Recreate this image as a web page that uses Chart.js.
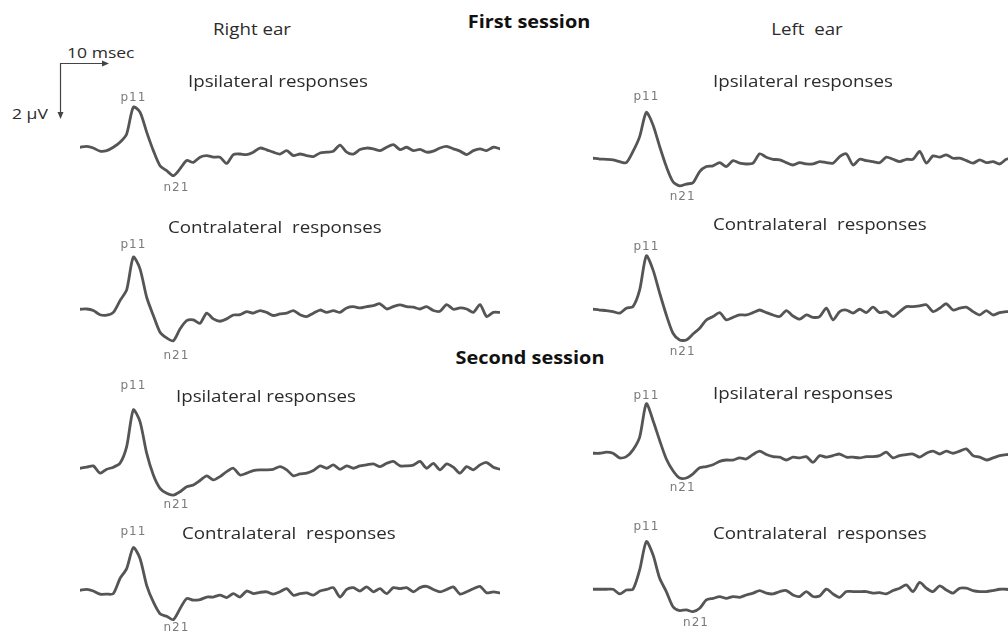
<!DOCTYPE html>
<html>
<head>
<meta charset="utf-8">
<script src="https://cdn.jsdelivr.net/npm/chart.js@4.4.1/dist/chart.umd.min.js"></script>
<style>
  body { margin: 0; width: 1008px; height: 634px; overflow: hidden; background: #fff; position: relative; }
  canvas { position: absolute; }
  .t { position: absolute; font-family: "Open Sans", sans-serif; font-size: 16px; color: #2b2b2b; white-space: pre; line-height: 1; }
  .c { transform: translate(-50%, -50%) scaleX(1.17); }
  .l { transform: translateY(-50%) scaleX(1.17); transform-origin: left center; }
  .b { font-weight: bold; font-size: 17px; color: #111; }
</style>
</head>
<body>

<svg style="position:absolute;left:0;top:0" width="200" height="140">
  <path d="M60.5 116 V63.5 H104" stroke="#444" stroke-width="1.2" fill="none"/>
  <path d="M102 60.5 L109 63.5 L102 66.5 Z" fill="#444"/>
  <path d="M57.5 112 L60.5 119 L63.5 112 Z" fill="#444"/>
</svg>

<div class="t c" style="left:252px;top:29px">Right ear</div>
<div class="t c b" style="left:529px;top:21px">First session</div>
<div class="t c" style="left:807px;top:29px">Left  ear</div>
<div class="t l" style="left:67px;top:52px;font-size:15px">10 msec</div>
<div class="t l" style="left:12px;top:113px;font-size:15px">2 µV</div>
<div class="t c b" style="left:530px;top:357px">Second session</div>

<script>
// sample times (ms) shared by all traces
const timesMs = [0, 1.5, 3, 4.5, 6, 7.5, 9, 10.5, 12, 13.5, 15, 16.5, 18, 19.5, 21, 22.5,
  24, 25.5, 27, 28.5, 30, 31.5, 33, 34.5, 36, 37.5, 39, 40.5, 42, 43.5, 45, 46.5,
  48, 49.5, 51, 52.5, 54, 55.5, 57, 58.5, 60, 61.5, 63, 64.5, 66, 67.5, 69, 70.5,
  72, 73.5, 75, 76.5, 78, 79.5, 81, 82.5, 84, 85.5, 87, 88.5, 90, 91.5, 93, 94.5];

// amplitudes in µV, positive up
const s1RightIpsi = [0, 0.03, -0.03, -0.15, -0.13, 0, 0.19, 0.51, 1.54, 1.35, 0.58, -0.13, -0.71, -0.9, -1.09, -0.83,
  -0.51, -0.58, -0.38, -0.32, -0.38, -0.38, -0.62, -0.28, -0.26, -0.28, -0.19, -0.03, -0.1, -0.19, -0.26, -0.13,
  -0.32, -0.26, -0.32, -0.36, -0.22, -0.19, -0.15, 0.08, -0.19, -0.26, -0.09, -0.03, -0.06, -0.13, 0, 0.1,
  -0.09, 0, -0.13, -0.08, -0.19, -0.15, -0.03, 0.03, -0.06, -0.15, -0.28, -0.13, -0.06, -0.13, 0, -0.06];
const s1RightContra = [0, 0.01, -0.05, -0.21, -0.23, -0.12, 0.33, 0.74, 2.0, 1.55, 0.46, -0.24, -0.88, -1.1, -1.21, -0.76,
  -0.44, -0.41, -0.54, -0.15, -0.37, -0.46, -0.37, -0.22, -0.21, -0.09, -0.15, -0.05, -0.12, -0.24, -0.18, -0.15,
  -0.05, -0.21, -0.28, -0.15, -0.03, -0.12, -0.05, -0.12, 0.05, 0.1, 0.05, 0.1, 0.14, 0.21, 0.01, 0.1,
  0.17, 0.1, 0.08, 0.01, 0.1, -0.05, -0.08, 0.18, 0, 0.05, 0.01, -0.12, 0.18, -0.28, -0.12, -0.12];
const s2RightIpsi = [0, 0.04, 0.09, -0.19, -0.04, 0.04, 0.19, 0.83, 2.24, 1.79, 0.58, -0.26, -0.77, -0.96, -1.03, -0.9,
  -0.71, -0.64, -0.47, -0.29, -0.45, -0.32, -0.13, 0, -0.26, -0.19, -0.09, -0.06, -0.06, -0.04, 0.06, -0.06,
  -0.29, -0.22, -0.19, -0.09, 0.09, 0, 0.13, -0.04, 0.09, 0, 0.09, 0.13, 0.17, 0.06, 0.19, 0.26,
  0.09, 0.09, 0.12, 0.26, 0, 0.19, -0.06, 0.17, 0.04, -0.19, 0.06, -0.06, 0.13, 0.22, 0.04, -0.04];
const s2RightContra = [0, 0.03, -0.03, -0.15, -0.15, -0.13, 0.45, 0.83, 1.64, 1.22, 0.19, -0.45, -0.9, -1.0, -1.13, -0.71,
  -0.32, -0.38, -0.36, -0.26, -0.26, -0.19, -0.28, -0.13, -0.26, -0.03, -0.13, -0.08, -0.06, -0.15, -0.06, 0.06,
  -0.19, -0.13, -0.1, -0.19, -0.03, 0.03, 0.1, -0.26, 0.03, 0.1, -0.03, 0.13, -0.06, 0.06, -0.13, 0.1,
  0.06, 0.1, -0.06, 0.1, 0.15, 0.03, -0.06, 0.03, 0.13, -0.15, -0.06, 0.06, 0.15, -0.1, -0.06, -0.1];
const s1LeftIpsi = [0, -0.03, -0.04, -0.06, -0.13, -0.17, 0.26, 0.83, 1.76, 1.28, 0.45, -0.32, -0.9, -1.06, -0.99, -0.94,
  -0.51, -0.32, -0.29, -0.17, -0.32, -0.09, -0.19, -0.22, -0.19, 0.17, 0.04, -0.04, -0.06, -0.17, -0.26, -0.17,
  -0.22, -0.22, -0.13, -0.17, -0.19, 0.06, 0.17, -0.26, -0.04, -0.09, -0.13, -0.17, 0.04, -0.04, -0.13, -0.04,
  -0.04, 0.26, -0.19, 0.09, 0.04, 0.13, 0, 0, -0.09, -0.19, -0.06, -0.17, -0.13, -0.22, -0.04, 0];
const s1LeftContra = [0, -0.03, -0.05, -0.09, -0.15, 0.04, 0.1, 0.74, 2.05, 1.51, 0.62, -0.22, -0.92, -1.18, -1.18, -0.95,
  -0.73, -0.41, -0.28, -0.13, -0.41, -0.31, -0.22, -0.22, -0.13, -0.03, -0.13, -0.22, -0.28, -0.05, -0.26, -0.38,
  -0.22, -0.31, -0.28, 0.04, -0.41, -0.09, -0.03, -0.15, 0, -0.13, 0.08, -0.13, -0.09, -0.28, -0.09, 0.1,
  0.1, 0.13, 0.17, -0.09, 0.04, 0.21, -0.03, 0.04, 0.08, -0.09, -0.22, -0.05, -0.22, -0.13, -0.09, -0.09];
const s2LeftIpsi = [0, 0, 0.04, 0, -0.18, -0.13, 0.13, 0.62, 1.9, 1.26, 0.49, -0.22, -0.67, -0.95, -0.95, -0.79,
  -0.56, -0.51, -0.44, -0.31, -0.26, -0.26, -0.18, -0.22, -0.05, 0.08, -0.05, -0.13, -0.15, -0.26, -0.15, -0.18,
  -0.13, -0.35, -0.09, -0.15, -0.09, -0.03, -0.15, -0.15, -0.18, -0.13, -0.13, -0.09, 0.04, -0.18, -0.09, -0.05,
  -0.03, -0.15, 0, 0.08, -0.03, 0.08, 0, 0.08, 0.17, -0.09, -0.15, -0.26, -0.18, -0.09, -0.05, -0.05];
const s2LeftContra = [0, 0, 0, 0, -0.18, -0.03, 0, 0.74, 1.83, 1.32, 0.42, -0.09, -0.67, -0.82, -0.79, -0.86,
  -0.73, -0.41, -0.35, -0.28, -0.35, -0.28, -0.31, -0.22, -0.15, -0.05, -0.15, -0.18, -0.09, -0.05, -0.22, -0.28,
  -0.09, -0.28, -0.26, 0, -0.18, -0.31, -0.09, -0.09, -0.09, -0.09, -0.15, -0.13, -0.18, -0.05, 0.04, 0.17,
  -0.09, 0.26, 0.04, -0.09, 0.13, -0.03, -0.15, 0.04, 0.04, -0.05, -0.09, -0.09, -0.05, 0, 0, -0.03];

const ipsiTitle = 'Ipsilateral responses';
const contraTitle = 'Contralateral  responses';

// layout of the eight panels (page pixels)
const panels = [
  { data: s1RightIpsi,   left: 80,  top: 43,  title: ipsiTitle,   tx: 188, ty: 81,  pOff: -9,  nOff: 12 },
  { data: s1RightContra, left: 80,  top: 205, title: contraTitle, tx: 168, ty: 227, pOff: -12, nOff: 15 },
  { data: s2RightIpsi,   left: 80,  top: 364, title: ipsiTitle,   tx: 176, ty: 396, pOff: -24, nOff: 10 },
  { data: s2RightContra, left: 80,  top: 486, title: contraTitle, tx: 182, ty: 533, pOff: -16, nOff: 8 },
  { data: s1LeftIpsi,    left: 593, top: 54,  title: ipsiTitle,   tx: 713, ty: 81,  pOff: -16, nOff: 11 },
  { data: s1LeftContra,  left: 593, top: 205, title: contraTitle, tx: 713, ty: 224, pOff: -9,  nOff: 12 },
  { data: s2LeftIpsi,    left: 593, top: 349, title: ipsiTitle,   tx: 713, ty: 393, pOff: -8,  nOff: 10 },
  { data: s2LeftContra,  left: 593, top: 485, title: contraTitle, tx: 713, ty: 533, pOff: -15, nOff: 11 }
];

const peakLabels = {
  id: 'peakLabels',
  afterDatasetsDraw(chart, args, opts) {
    const pts = chart.getDatasetMeta(0).data;
    const vals = chart.data.datasets[0].data;
    let hi = 0;
    for (let i = 1; i < vals.length; i++) if (vals[i] > vals[hi]) hi = i;
    let lo = hi;
    for (let i = hi; i < vals.length; i++) if (vals[i] < vals[lo]) lo = i;
    const ctx = chart.ctx;
    ctx.save();
    ctx.font = '12px "DejaVu Sans"';
    ctx.letterSpacing = '1px';
    ctx.fillStyle = '#7a7a7a';
    ctx.textAlign = 'center';
    ctx.textBaseline = 'middle';
    ctx.fillText('p11', pts[hi].x, pts[hi].y + opts.pOff);
    ctx.fillText('n21', pts[lo].x + 3, pts[lo].y + opts.nOff);
    ctx.restore();
  }
};

panels.forEach(p => {
  const cv = document.createElement('canvas');
  cv.width = 420;
  cv.height = 172;
  cv.style.left = p.left + 'px';
  cv.style.top = p.top + 'px';
  document.body.appendChild(cv);

  const tt = document.createElement('div');
  tt.className = 't l';
  tt.style.left = p.tx + 'px';
  tt.style.top = p.ty + 'px';
  tt.textContent = p.title;
  document.body.appendChild(tt);

  new Chart(cv, {
    type: 'line',
    data: {
      labels: timesMs,
      datasets: [{
        data: p.data,
        borderColor: '#555',
        borderWidth: 2.8,
        tension: 0.25,
        pointRadius: 0,
        borderJoinStyle: 'round',
        borderCapStyle: 'round'
      }]
    },
    options: {
      responsive: false,
      animation: false,
      events: [],
      devicePixelRatio: 1,
      layout: { padding: 0 },
      scales: {
        x: { display: false, offset: false },
        y: { display: false, min: -2.6, max: 4.0 }
      },
      plugins: {
        legend: { display: false },
        tooltip: { enabled: false },
        peakLabels: { pOff: p.pOff, nOff: p.nOff }
      }
    },
    plugins: [peakLabels]
  });
});
</script>
</body>
</html>
